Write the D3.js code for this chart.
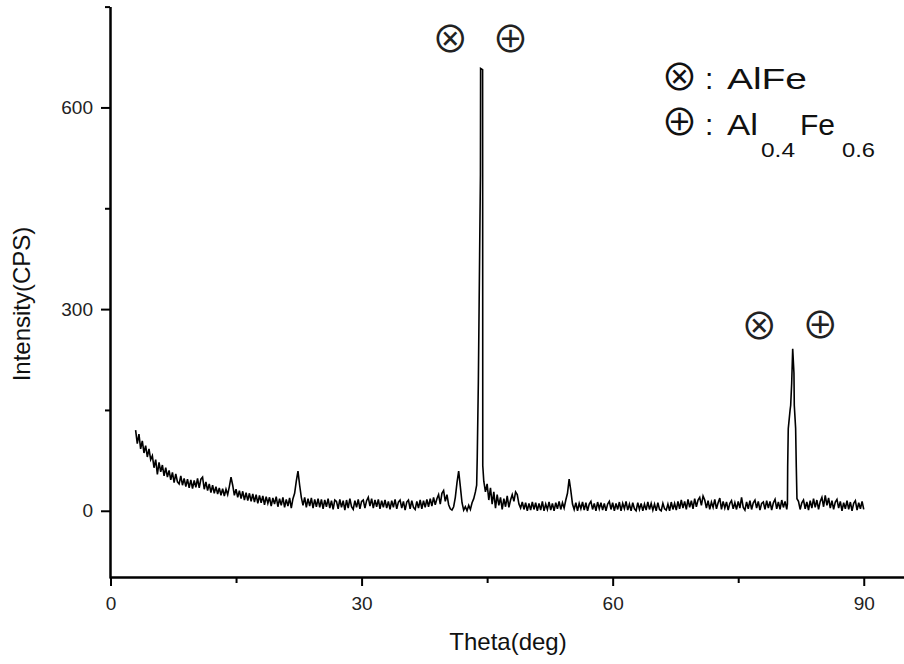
<!DOCTYPE html>
<html>
<head>
<meta charset="utf-8">
<script src="https://cdn.jsdelivr.net/npm/d3@7"></script>
<style>
  body { margin: 0; background: #fff; }
  svg { display: block; }
  text { font-family: "Liberation Sans", Arial, sans-serif; }
</style>
</head>
<body>
<svg id="chart" width="904" height="664"></svg>
<script>
// XRD scan. Regular scan parts use a 0.2 deg step,
// the two sharp peaks are kept as (theta, counts) pairs.
var thetaStep = 0.2;

var scanAStart = 3.0; // 3.0 .. 43.6
var scanA = [
  120, 100, 114, 92, 104, 86, 97, 80, 92, 76,
  82, 64, 76, 54, 72, 58, 68, 52, 64, 50,
  60, 46, 57, 42, 55, 43, 40, 52, 38, 48,
  36, 47, 34, 46, 33, 45, 35, 48, 34, 47,
  50, 32, 43, 30, 40, 27, 38, 26, 36, 25,
  34, 23, 33, 22, 32, 24, 36, 50, 38, 23,
  32, 20, 30, 18, 29, 16, 27, 15, 26, 14,
  25, 13, 24, 11, 23, 12, 22, 9, 21, 11,
  20, 7, 19, 10, 21, 6, 18, 8, 20, 5,
  17, 7, 19, 4, 18, 26, 44, 59, 38, 20,
  8, 20, 5, 18, 7, 19, 4, 17, 6, 18,
  5, 17, 3, 16, 6, 18, 4, 15, 2, 16,
  14, 3, 17, 5, 15, 1, 16, 4, 18, 6,
  2, 15, 5, 17, 3, 14, 16, 4, 15, 20,
  7, 18, 4, 16, 6, 17, 3, 15, 5, 16,
  4, 14, 2, 15, 5, 17, 3, 13, 16, 4,
  14, 1, 13, 16, 3, 15, 5, 2, 14, 4,
  16, 3, 15, 5, 17, 6, 18, 7, 20, 9,
  18, 24, 10, 26, 30, 14, 24, 9, 3, 1,
  6, 20, 42, 59, 36, 12, 1, 6, 0, 8,
  2, 12, 18, 28
];

var peakMain = [
  [43.75, 38], [43.82, 80], [43.95, 190], [44.2, 500],
  [44.22, 658], [44.46, 656], [44.48, 67]
];

var scanBStart = 44.6; // 44.6 .. 80.8
var scanB = [
  44, 28, 40, 16, 34, 10, 28, 4, 24, 8,
  20, 2, 18, 6, 22, 5, 16, 24, 14, 28,
  24, 10, 4, 13, 2, 12, 0, 11, 1, 13,
  2, 12, 0, 11, 1, 14, 0, 10, 2, 13,
  1, 11, 0, 12, 3, 14, 2, 12, 4, 16,
  26, 47, 30, 10, 2, 12, 0, 11, 3, 13,
  1, 12, 0, 10, 14, 2, 11, 0, 13, 3,
  12, 1, 11, 0, 10, 14, 2, 12, 0, 11,
  2, 13, 0, 11, 3, 14, 1, 10, 0, 12,
  3, 0, 12, 2, 11, 0, 10, 1, 13, 2,
  11, 1, 10, 0, 12, 2, 0, 11, 3, 1,
  10, 0, 13, 2, 11, 1, 14, 3, 16, 4,
  14, 2, 17, 5, 15, 3, 18, 6, 16, 20,
  8, 22, 16, 4, 15, 2, 13, 5, 17, 3,
  12, 19, 2, 14, 4, 13, 1, 11, 15, 3,
  12, 2, 14, 4, 20, 5, 1, 13, 3, 15,
  2, 12, 16, 4, 14, 1, 11, 13, 2, 15,
  4, 14, 1, 12, 17, 3, 13, 2, 16, 5,
  14, 2
];

var peak81 = [
  [80.88, 10], [80.91, 65], [80.98, 122], [81.2, 150], [81.27, 157],
  [81.39, 190], [81.51, 241], [81.66, 205], [81.7, 157], [81.86, 123],
  [81.94, 65], [82.02, 18]
];

var scanCStart = 82.2; // 82.2 .. 90.0
var scanC = [
  14, 2, 12, 16, 3, 13, 1, 15, 4, 18,
  5, 16, 2, 14, 20, 6, 23, 8, 19, 4,
  15, 2, 13, 17, 4, 14, 0, 12, 3, 15,
  2, 13, 0, 11, 15, 1, 12, 3, 14, 2
];

var xTicks = [0, 30, 60, 90];
var xMinorTicks = [15, 45, 75];
var yTicks = [0, 300, 600];
var yMinorTicks = [150, 450, 750];

// phase markers above the peaks
var markTheta = [40.6, 47.8, 77.5, 84.8];
var markValue = [701, 701, 274, 276];
var markSymbol = ["\u2297", "\u2295", "\u2297", "\u2295"];

// d3 settings
var width = 904,
    height = 664;
var symbolFont = "'Noto Sans CJK JP', 'DejaVu Sans', sans-serif";

var x = d3.scaleLinear().domain([0, 95]).range([110.5, 905.6]);
var y = d3.scaleLinear().domain([-100, 750]).range([578, 6.6]);

function scanPoints(start, values) {
  return values.map(function(v, i) {
    return [+(start + i * thetaStep).toFixed(2), v];
  });
}

var points = []
  .concat(scanPoints(scanAStart, scanA))
  .concat(peakMain)
  .concat(scanPoints(scanBStart, scanB))
  .concat(peak81)
  .concat(scanPoints(scanCStart, scanC));

var svg = d3.select("#chart")
  .attr("width", width)
  .attr("height", height);

svg.append("rect")
  .attr("width", width)
  .attr("height", height)
  .attr("fill", "#fff");

// trace
var line = d3.line()
  .x(function(d) { return x(d[0]); })
  .y(function(d) { return y(d[1]); });

svg.append("path")
  .datum(points)
  .attr("d", line)
  .attr("fill", "none")
  .attr("stroke", "#000")
  .attr("stroke-width", 1.6);

// axes
function styleAxis(g) {
  g.select(".domain").attr("stroke", "#000").attr("stroke-width", 2);
  g.selectAll(".tick line").attr("stroke", "#000").attr("stroke-width", 2);
  g.selectAll(".tick text")
    .attr("fill", "#222")
    .style("font-size", "19px")
    .style("font-family", "'Liberation Sans', Arial, sans-serif");
}

svg.append("g")
  .attr("transform", "translate(0,577)")
  .call(d3.axisBottom(x).tickValues(xMinorTicks).tickSize(6).tickSizeOuter(0).tickFormat(""))
  .call(styleAxis);

svg.append("g")
  .attr("transform", "translate(0,577)")
  .call(d3.axisBottom(x).tickValues(xTicks).tickSize(9).tickSizeOuter(0).tickPadding(11))
  .call(styleAxis);

svg.append("g")
  .attr("transform", "translate(110,0)")
  .call(d3.axisLeft(y).tickValues(yMinorTicks).tickSize(5).tickSizeOuter(0).tickFormat(""))
  .call(styleAxis);

svg.append("g")
  .attr("transform", "translate(110,0)")
  .call(d3.axisLeft(y).tickValues(yTicks).tickSize(9).tickSizeOuter(0).tickPadding(8))
  .call(styleAxis);

// axis titles
svg.append("text")
  .attr("x", 508)
  .attr("y", 650)
  .attr("text-anchor", "middle")
  .attr("fill", "#111")
  .style("font-size", "24px")
  .text("Theta(deg)");

svg.append("text")
  .attr("transform", "translate(29.5,304) rotate(-90)")
  .attr("text-anchor", "middle")
  .attr("fill", "#111")
  .style("font-size", "24px")
  .text("Intensity(CPS)");

// phase markers
svg.selectAll("text.mark")
  .data(markTheta).enter()
  .append("text")
  .attr("class", "mark")
  .attr("x", function(d) { return x(d); })
  .attr("y", function(d, i) { return y(markValue[i]); })
  .attr("dy", "0.36em")
  .attr("text-anchor", "middle")
  .attr("fill", "#222")
  .style("font-family", symbolFont)
  .style("font-size", "37px")
  .text(function(d, i) { return markSymbol[i]; });

// legend
var legend = svg.append("g").attr("fill", "#111");

legend.selectAll("text.sym")
  .data([["\u2297", 78], ["\u2295", 122.5]]).enter()
  .append("text")
  .attr("class", "sym")
  .attr("x", 679.5)
  .attr("y", function(d) { return d[1]; })
  .attr("dy", "0.36em")
  .attr("text-anchor", "middle")
  .style("font-family", symbolFont)
  .style("font-size", "37px")
  .text(function(d) { return d[0]; });

legend.append("text").attr("x", 705).attr("y", 89).style("font-size", "30px").text(":");
legend.append("text").attr("x", 705).attr("y", 135).style("font-size", "30px").text(":");

legend.append("text")
  .attr("x", 727).attr("y", 89)
  .attr("textLength", 80).attr("lengthAdjust", "spacingAndGlyphs")
  .style("font-size", "30px")
  .text("AlFe");

var l2 = [
  { t: "Al", x: 727, y: 135, size: 30, len: 31 },
  { t: "0.4", x: 761, y: 156.5, size: 20, len: 34 },
  { t: "Fe", x: 800, y: 135, size: 30, len: 35 },
  { t: "0.6", x: 842, y: 156.5, size: 20, len: 33 }
];
legend.selectAll("text.l2")
  .data(l2).enter()
  .append("text")
  .attr("class", "l2")
  .attr("x", function(d) { return d.x; })
  .attr("y", function(d) { return d.y; })
  .attr("textLength", function(d) { return d.len; })
  .attr("lengthAdjust", "spacingAndGlyphs")
  .style("font-size", function(d) { return d.size + "px"; })
  .text(function(d) { return d.t; });
</script>
</body>
</html>
